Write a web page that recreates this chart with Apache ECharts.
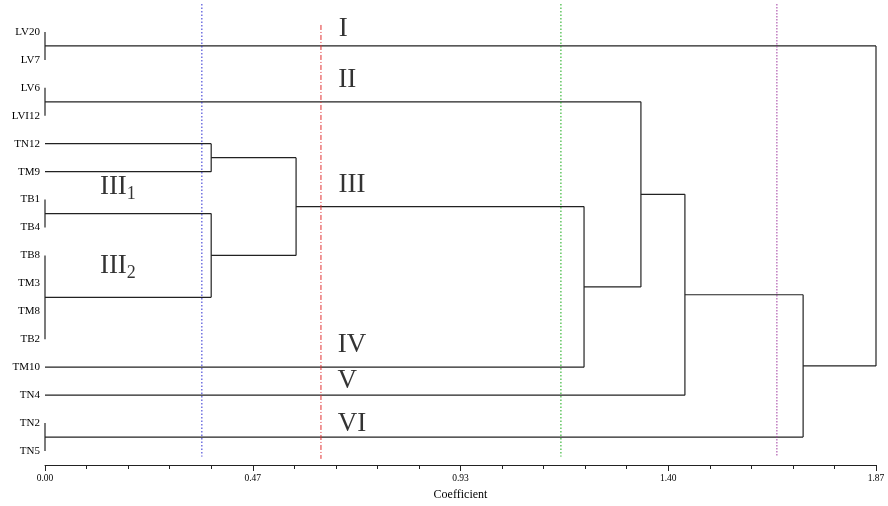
<!DOCTYPE html>
<html>
<head>
<meta charset="utf-8">
<script src="https://cdn.jsdelivr.net/npm/echarts@6/dist/echarts.min.js"></script>
<style>
  html, body { margin: 0; padding: 0; background: #fff; }
  #chart { width: 888px; height: 506px; }
</style>
</head>
<body>
<div id="chart"></div>
<script>
// leaves from top to bottom
const leaves = ['LV20', 'LV7', 'LV6', 'LVI12', 'TN12', 'TM9', 'TB1', 'TB4', 'TB8', 'TM3', 'TM8', 'TB2', 'TM10', 'TN4', 'TN2', 'TN5']
// merges: child ids (0-15 leaves, 16+ earlier merges), coefficient
const mergeChildren = [
  [0, 1], [2, 3], [4, 5], [6, 7], [8, 9, 10, 11], [19, 20], [18, 21],
  [22, 12], [17, 23], [24, 13], [14, 15], [25, 26], [16, 27]
]
const mergeHeights = [0, 0, 0.374, 0, 0, 0.374, 0.565, 1.213, 1.341, 1.440, 0, 1.706, 1.87]
// cut lines
const cutValues = [0.353, 0.621, 1.161, 1.647]
const cutColors = ['#2b2bd0', '#e03030', '#13a813', '#a03aa0']
const cutDash = [[1.5, 2], [5, 2, 1, 2], [1.5, 2], [1.5, 1.5]]
const cutTop = [-1, -0.25, -1, -1]
const cutBottom = [15.2, 15.28, 15.2, 15.2]
// x tick labels
const xLabels = ['0.00', '0.47', '0.93', '1.40', '1.87']
// group labels [x, y, text]
const groupLabels = [
  [0.671, -0.12, 'I'], [0.680, 1.73, 'II'], [0.691, 5.48, 'III'],
  [0.691, 11.2, 'IV'], [0.680, 12.49, 'V'], [0.691, 14.04, 'VI'],
  [0.164, 5.55, 'III{s|1}'], [0.164, 8.38, 'III{s|2}']
]

// build segments
const nodeY = leaves.map((d, i) => i)
const nodeH = leaves.map(() => 0)
const segments = []
mergeChildren.forEach((ch, k) => {
  const h = mergeHeights[k]
  const ys = ch.map(c => nodeY[c])
  const yMin = Math.min(...ys)
  const yMax = Math.max(...ys)
  ch.forEach(c => segments.push([nodeH[c], nodeY[c], h, nodeY[c]]))
  segments.push([h, yMin, h, yMax])
  nodeY.push((yMin + yMax) / 2)
  nodeH.push(h)
})

const serif = 'Liberation Serif, Times New Roman, serif'
const myChart = echarts.init(document.getElementById('chart'))

const series = [{
  type: 'custom',
  data: segments,
  silent: true,
  renderItem(params, api) {
    const p1 = api.coord([api.value(0), api.value(1)])
    const p2 = api.coord([api.value(2), api.value(3)])
    return {
      type: 'line',
      shape: { x1: p1[0], y1: p1[1], x2: p2[0], y2: p2[1] },
      style: { stroke: '#222', lineWidth: 1.2 }
    }
  }
}]

cutValues.forEach((v, i) => {
  series.push({
    type: 'line',
    data: [[v, cutTop[i]], [v, cutBottom[i]]],
    symbol: 'none',
    clip: false,
    silent: true,
    lineStyle: { color: cutColors[i], width: 1, type: cutDash[i] }
  })
})

series.push({
  type: 'scatter',
  data: groupLabels,
  symbolSize: 0,
  silent: true,
  label: {
    show: true,
    position: 'inside',
    formatter: p => p.data[2],
    color: '#000',
    fontFamily: serif,
    fontSize: 27,
    rich: {
      s: { fontSize: 18, fontFamily: serif, color: '#000', padding: [14, 0, 0, 0] }
    }
  }
})

myChart.setOption({
  animation: false,
  grid: { left: 45, right: 12, top: 4, bottom: 36 },
  xAxis: {
    type: 'value',
    min: 0,
    max: 1.87,
    interval: 0.4675,
    name: 'Coefficient',
    nameLocation: 'middle',
    nameGap: 24,
    nameTextStyle: { fontFamily: serif, fontSize: 12, color: '#000' },
    axisLine: { show: true, onZero: false, lineStyle: { color: '#222', width: 1 } },
    axisTick: { show: true, length: 6, lineStyle: { color: '#222' } },
    minorTick: { show: true, splitNumber: 5, length: 4, lineStyle: { color: '#222' } },
    axisLabel: {
      margin: 8,
      fontFamily: serif,
      fontSize: 9.5,
      color: '#000',
      formatter(value, index) {
        return xLabels[index] || ''
      }
    },
    splitLine: { show: false }
  },
  yAxis: {
    type: 'value',
    inverse: true,
    min: -1,
    max: 15.5,
    interval: 1,
    axisLine: { show: false },
    axisTick: { show: false },
    splitLine: { show: false },
    axisLabel: {
      margin: 5,
      fontFamily: serif,
      fontSize: 11,
      color: '#000',
      formatter(value) {
        return Number.isInteger(value) && leaves[value] ? leaves[value] : ''
      }
    }
  },
  series: series
})
</script>
</body>
</html>
